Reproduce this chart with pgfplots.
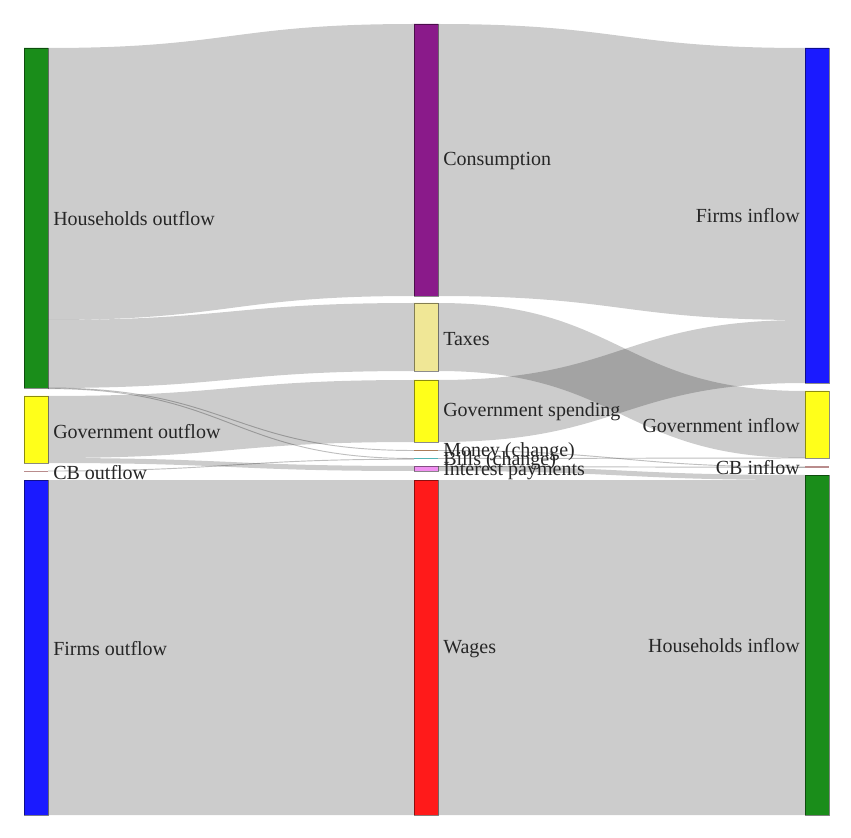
\documentclass[border=0pt]{standalone}
\usepackage{pgfplots}
\usepackage{pgfplotstable}
\pgfplotsset{compat=1.18}
\usepackage{fontspec}
\setmainfont{Liberation Serif}

\definecolor{hhgreen}{RGB}{26,141,26}
\definecolor{fblue}{RGB}{26,26,255}
\definecolor{gyellow}{RGB}{255,255,26}
\definecolor{cpurple}{RGB}{138,26,138}
\definecolor{tkhaki}{RGB}{240,231,150}
\definecolor{wred}{RGB}{255,26,26}
\definecolor{ipviolet}{RGB}{240,143,240}
\definecolor{cbrosy}{RGB}{185,140,140}
\definecolor{mbrown}{RGB}{170,125,90}
\definecolor{bteal}{RGB}{80,180,180}

\tikzset{lbl/.style={font=\fontsize{15}{18}\selectfont, text=black!85, inner sep=0pt, yshift=-0.5pt}}

% links: x0 top0 bottom0 x1 top1 bottom1 (pixel units)
\pgfplotstableread{
x0 t0 b0 x1 t1 b1
48 48 320 414 24 296
48 320 388 414 303 371
48 396 458 414 380 442
48 458 463 414 466 471
48 480 815 414 480 815
438 24 296 805 48 320
438 380 442 805 320 383
438 303 371 805 391 458
438 466 471 805 475 480
438 480 815 805 480 815
}\links

% zero-width links: x0 y0 x1 y1
\pgfplotstableread{
x0 y0 x1 y1
48 388 414 450.5
48 388.6 414 458.5
48 471 414 459.2
438 450.5 805 467
438 458.5 805 458
438 466.5 805 467.4
}\thinlinks

\begin{document}
\begin{tikzpicture}
\begin{axis}[
  scale only axis, width=638.25pt, height=628.5pt,
  xmin=0, xmax=851, ymin=0, ymax=838, y dir=reverse,
  hide axis, clip=false,
]
\addplot[draw=none] coordinates {(0,0) (851,838)};

% wide links
\pgfplotstablegetrowsof{\links}
\pgfmathtruncatemacro\N{\pgfplotsretval-1}
\pgfplotsforeachungrouped \i in {0,...,\N}{%
  \pgfplotstablegetelem{\i}{x0}\of\links \let\xa\pgfplotsretval
  \pgfplotstablegetelem{\i}{t0}\of\links \let\ta\pgfplotsretval
  \pgfplotstablegetelem{\i}{b0}\of\links \let\ba\pgfplotsretval
  \pgfplotstablegetelem{\i}{x1}\of\links \let\xb\pgfplotsretval
  \pgfplotstablegetelem{\i}{t1}\of\links \let\tb\pgfplotsretval
  \pgfplotstablegetelem{\i}{b1}\of\links \let\bb\pgfplotsretval
  \pgfmathsetmacro\xm{(\xa+\xb)/2}%
  \edef\temp{\noexpand\fill[black,fill opacity=0.2] (axis cs:\xa,\ta) .. controls (axis cs:\xm,\ta) and (axis cs:\xm,\tb) .. (axis cs:\xb,\tb) -- (axis cs:\xb,\bb) .. controls (axis cs:\xm,\bb) and (axis cs:\xm,\ba) .. (axis cs:\xa,\ba) -- cycle;}%
  \temp
}

% thin links
\pgfplotstablegetrowsof{\thinlinks}
\pgfmathtruncatemacro\M{\pgfplotsretval-1}
\pgfplotsforeachungrouped \i in {0,...,\M}{%
  \pgfplotstablegetelem{\i}{x0}\of\thinlinks \let\xa\pgfplotsretval
  \pgfplotstablegetelem{\i}{y0}\of\thinlinks \let\ya\pgfplotsretval
  \pgfplotstablegetelem{\i}{x1}\of\thinlinks \let\xb\pgfplotsretval
  \pgfplotstablegetelem{\i}{y1}\of\thinlinks \let\yb\pgfplotsretval
  \pgfmathsetmacro\xm{(\xa+\xb)/2}%
  \edef\temp{\noexpand\draw[black,draw opacity=0.25,line width=0.7pt] (axis cs:\xa,\ya) .. controls (axis cs:\xm,\ya) and (axis cs:\xm,\yb) .. (axis cs:\xb,\yb);}%
  \temp
}

% nodes
\pgfplotsset{nd/.style={draw=black,draw opacity=0.45,line width=0.4pt}}
\addplot[nd,fill=hhgreen] coordinates {(24,48) (48,48) (48,388) (24,388) (24,48)};
\addplot[nd,fill=gyellow] coordinates {(24,396) (48,396) (48,463) (24,463) (24,396)};
\addplot[cbrosy,line width=0.8pt] coordinates {(24,471.5) (48,471.5)};
\addplot[nd,fill=fblue] coordinates {(24,480) (48,480) (48,815) (24,815) (24,480)};

\addplot[nd,fill=cpurple] coordinates {(414,24) (438,24) (438,296) (414,296) (414,24)};
\addplot[nd,fill=tkhaki] coordinates {(414,303) (438,303) (438,371) (414,371) (414,303)};
\addplot[nd,fill=gyellow] coordinates {(414,380) (438,380) (438,442) (414,442) (414,380)};
\addplot[mbrown,line width=0.8pt] coordinates {(414,450.5) (438,450.5)};
\addplot[bteal,line width=0.8pt] coordinates {(414,458.5) (438,458.5)};
\addplot[nd,fill=ipviolet] coordinates {(414,466) (438,466) (438,471) (414,471) (414,466)};
\addplot[nd,fill=wred] coordinates {(414,480) (438,480) (438,815) (414,815) (414,480)};

\addplot[nd,fill=fblue] coordinates {(805,48) (829,48) (829,383) (805,383) (805,48)};
\addplot[nd,fill=gyellow] coordinates {(805,391) (829,391) (829,458) (805,458) (805,391)};
\addplot[cbrosy,line width=0.8pt] coordinates {(805,467) (829,467)};
\addplot[nd,fill=hhgreen] coordinates {(805,475) (829,475) (829,815) (805,815) (805,475)};

% labels
\node[lbl,anchor=west] at (axis cs:53,218) {Households outflow};
\node[lbl,anchor=west] at (axis cs:53,431) {Government outflow};
\node[lbl,anchor=west] at (axis cs:53,472) {CB outflow};
\node[lbl,anchor=west] at (axis cs:53,648) {Firms outflow};
\node[lbl,anchor=west] at (axis cs:443,160) {Consumption};
\node[lbl,anchor=west] at (axis cs:443,338) {Taxes};
\node[lbl,anchor=west] at (axis cs:443,411) {Government spending};
\node[lbl,anchor=west] at (axis cs:443,451) {Money (change)};
\node[lbl,anchor=west] at (axis cs:443,460) {Bills (change)};
\node[lbl,anchor=west] at (axis cs:443,470) {Interest payments};
\node[lbl,anchor=west] at (axis cs:443,648) {Wages};
\node[lbl,anchor=east] at (axis cs:800,215) {Firms inflow};
\node[lbl,anchor=east] at (axis cs:800,425) {Government inflow};
\node[lbl,anchor=east] at (axis cs:800,467) {CB inflow};
\node[lbl,anchor=east] at (axis cs:800,645) {Households inflow};
\end{axis}
\end{tikzpicture}
\end{document}
